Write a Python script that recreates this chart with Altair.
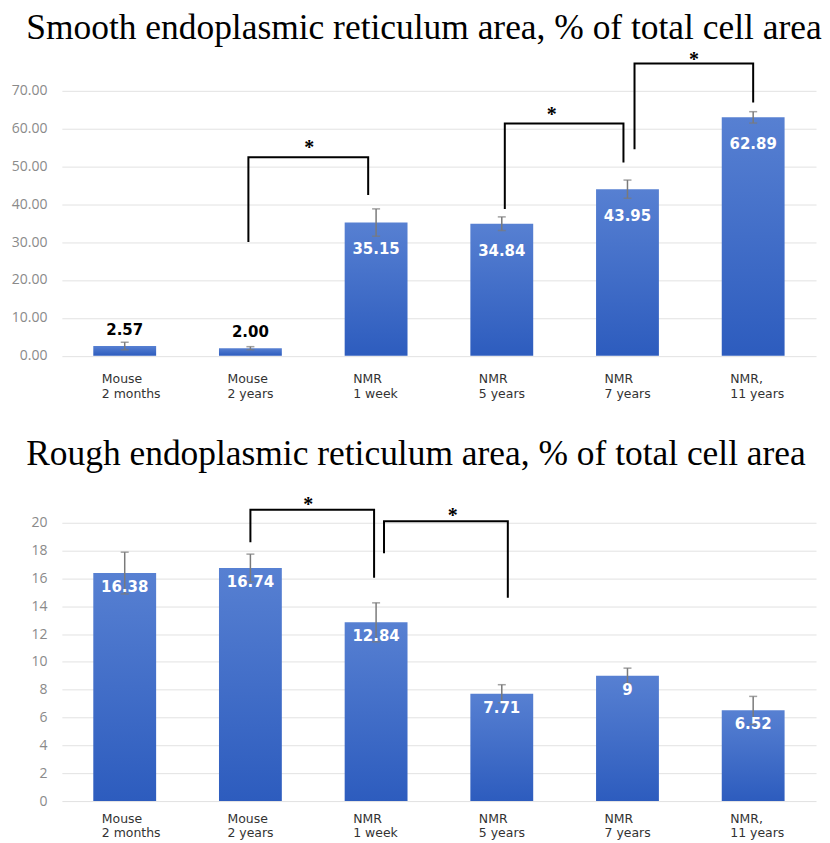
import altair as alt
import pandas as pd

# ---------------- data ----------------
categories = ["Mouse|2 months", "Mouse|2 years", "NMR|1 week",
              "NMR|5 years", "NMR|\u00a0\u00a07 years", "NMR,|11 years"]

smooth_values = [2.57, 2.00, 35.15, 34.84, 43.95, 62.89]
smooth_labels = ["2.57", "2.00", "35.15", "34.84", "43.95", "62.89"]
smooth_err = [1.0, 0.4, 3.6, 1.8, 2.4, 1.5]

rough_values = [16.38, 16.74, 12.84, 7.71, 9, 6.52]
rough_labels = ["16.38", "16.74", "12.84", "7.71", "9", "6.52"]
rough_err = [1.5, 1.0, 1.4, 0.65, 0.55, 1.0]

# significance brackets: x in category-index units (category i centred at i + 0.5)
smooth_br_id = [1, 1, 1, 1, 2, 2, 2, 2, 3, 3, 3, 3]
smooth_br_x = [1.484, 1.484, 2.437, 2.437, 3.524, 3.524, 4.468, 4.468, 4.556, 4.556, 5.5, 5.5]
smooth_br_y = [30, 52.4, 52.4, 42.4, 38.7, 61.3, 61.3, 51, 54.5, 77.1, 77.1, 66.8]
smooth_star_x = [1.968, 3.897, 5.03]
smooth_star_y = [56.6, 65.3, 79.7]

rough_br_id = [1, 1, 1, 1, 2, 2, 2, 2]
rough_br_x = [1.5, 1.5, 2.484, 2.484, 2.563, 2.563, 3.548, 3.548]
rough_br_y = [18.6, 20.93, 20.93, 16.05, 17.8, 20.1, 20.1, 14.6]
rough_star_x = [1.96, 3.11]
rough_star_y = [21.73, 20.93]

smooth_ticks = [0, 10, 20, 30, 40, 50, 60, 70]
rough_ticks = [0, 2, 4, 6, 8, 10, 12, 14, 16, 18, 20]

BAR_GRAD = alt.Gradient(
    gradient="linear",
    stops=[alt.GradientStop(color="#5780D2", offset=0),
           alt.GradientStop(color="#2D5CBE", offset=1)],
    x1=0, x2=0, y1=0, y2=1,
)


def panel(title, vals, labs, errs, br_id, br_x, br_y, st_x, st_y,
          ydom, yticks, yfmt, height, label_dy, inside_min, title_offset, title_dx,
          xlab_pad):
    df = pd.DataFrame({
        "cat": categories, "value": vals, "label": labs,
        "lo": [v - e for v, e in zip(vals, errs)],
        "hi": [v + e for v, e in zip(vals, errs)],
    })
    br = pd.DataFrame({"b": br_id, "bx": br_x, "by": br_y,
                       "o": list(range(len(br_id)))})
    st = pd.DataFrame({"sx": st_x, "sy": st_y})

    x_axis = alt.Axis(title=None, labelExpr="split(datum.label, '|')", labelAngle=0,
                      labelAlign="left", labelOffset=-23, labelPadding=xlab_pad,
                      labelBaseline="top", labelFont="DejaVu Sans", labelFontSize=12.5,
                      labelColor="#333333", labelLineHeight=15, ticks=False,
                      domain=False, grid=False)
    y_axis = alt.Axis(title=None, values=yticks, format=yfmt, grid=True,
                      gridColor="#e2e2e2", gridWidth=1, domain=False, ticks=False,
                      labelFont="Open Sans", labelFontSize=14, labelColor="#8a8a8a",
                      labelPadding=15)
    xs = alt.X("cat:N", sort=categories,
               scale=alt.Scale(paddingInner=0.5, paddingOuter=0.25), axis=x_axis)
    yscale = alt.Scale(domain=ydom, nice=False, zero=True)

    base = alt.Chart(df)
    bars = base.mark_bar(color=BAR_GRAD).encode(
        x=xs, y=alt.Y("value:Q", scale=yscale, axis=y_axis))
    err = base.mark_rule(color="#7a7a7a", strokeWidth=1.5).encode(
        x=xs, y=alt.Y("lo:Q", scale=yscale, axis=y_axis), y2="hi:Q")
    cap_hi = base.mark_tick(color="#7a7a7a", size=8, thickness=1.5).encode(
        x=xs, y=alt.Y("hi:Q", scale=yscale, axis=y_axis))
    cap_lo = base.mark_tick(color="#7a7a7a", size=8, thickness=1.5).encode(
        x=xs, y=alt.Y("lo:Q", scale=yscale, axis=y_axis))
    txt_in = base.transform_filter(alt.datum.value >= inside_min).mark_text(
        font="DejaVu Sans", fontSize=15, fontWeight="bold", color="white",
        baseline="middle", dy=label_dy).encode(
        x=xs, y=alt.Y("value:Q", scale=yscale, axis=y_axis), text="label:N")
    txt_out = base.transform_filter(alt.datum.value < inside_min).mark_text(
        font="DejaVu Sans", fontSize=15, fontWeight="bold", color="black",
        baseline="middle", dy=-16).encode(
        x=xs, y=alt.Y("value:Q", scale=yscale, axis=y_axis), text="label:N")

    cat_layer = alt.layer(bars, err, cap_hi, cap_lo, txt_in, txt_out)

    qx = alt.Scale(domain=[0, 6], nice=False, zero=False)
    brackets = alt.Chart(br).mark_line(color="black", strokeWidth=2).encode(
        x=alt.X("bx:Q", scale=qx, axis=None),
        y=alt.Y("by:Q", scale=yscale, axis=y_axis),
        detail="b:N", order="o:Q")
    stars = alt.Chart(st).mark_text(text="*", font="Liberation Serif", fontSize=20,
                                    fontWeight="bold", color="black",
                                    baseline="middle", dy=6.5).encode(
        x=alt.X("sx:Q", scale=qx, axis=None),
        y=alt.Y("sy:Q", scale=yscale, axis=y_axis))

    return alt.layer(cat_layer, brackets, stars).resolve_scale(x="independent").properties(
        width=756, height=height,
        title=alt.TitleParams(title, font="Liberation Serif", fontSize=35.5,
                              fontWeight="normal", color="black", anchor="middle",
                              frame="group", offset=title_offset, dx=title_dx),
    )


top = panel("Smooth endoplasmic reticulum area, % of total cell area",
            smooth_values, smooth_labels, smooth_err,
            smooth_br_id, smooth_br_x, smooth_br_y, smooth_star_x, smooth_star_y,
            [0, 82], smooth_ticks, ".2f", 311.6, 27, 10, -2, -15, 17)
bottom = panel("Rough endoplasmic reticulum area, % of total cell area",
               rough_values, rough_labels, rough_err,
               rough_br_id, rough_br_x, rough_br_y, rough_star_x, rough_star_y,
               [0, 22], rough_ticks, "d", 307, 14, 0, 22, -23, 11)

chart = alt.vconcat(top, bottom, spacing=36).properties(
    padding={"left": 3, "top": 2, "right": 0, "bottom": 0}
).configure_view(stroke=None)

chart.save("out.html", embed_options={"renderer": "svg", "actions": False})
